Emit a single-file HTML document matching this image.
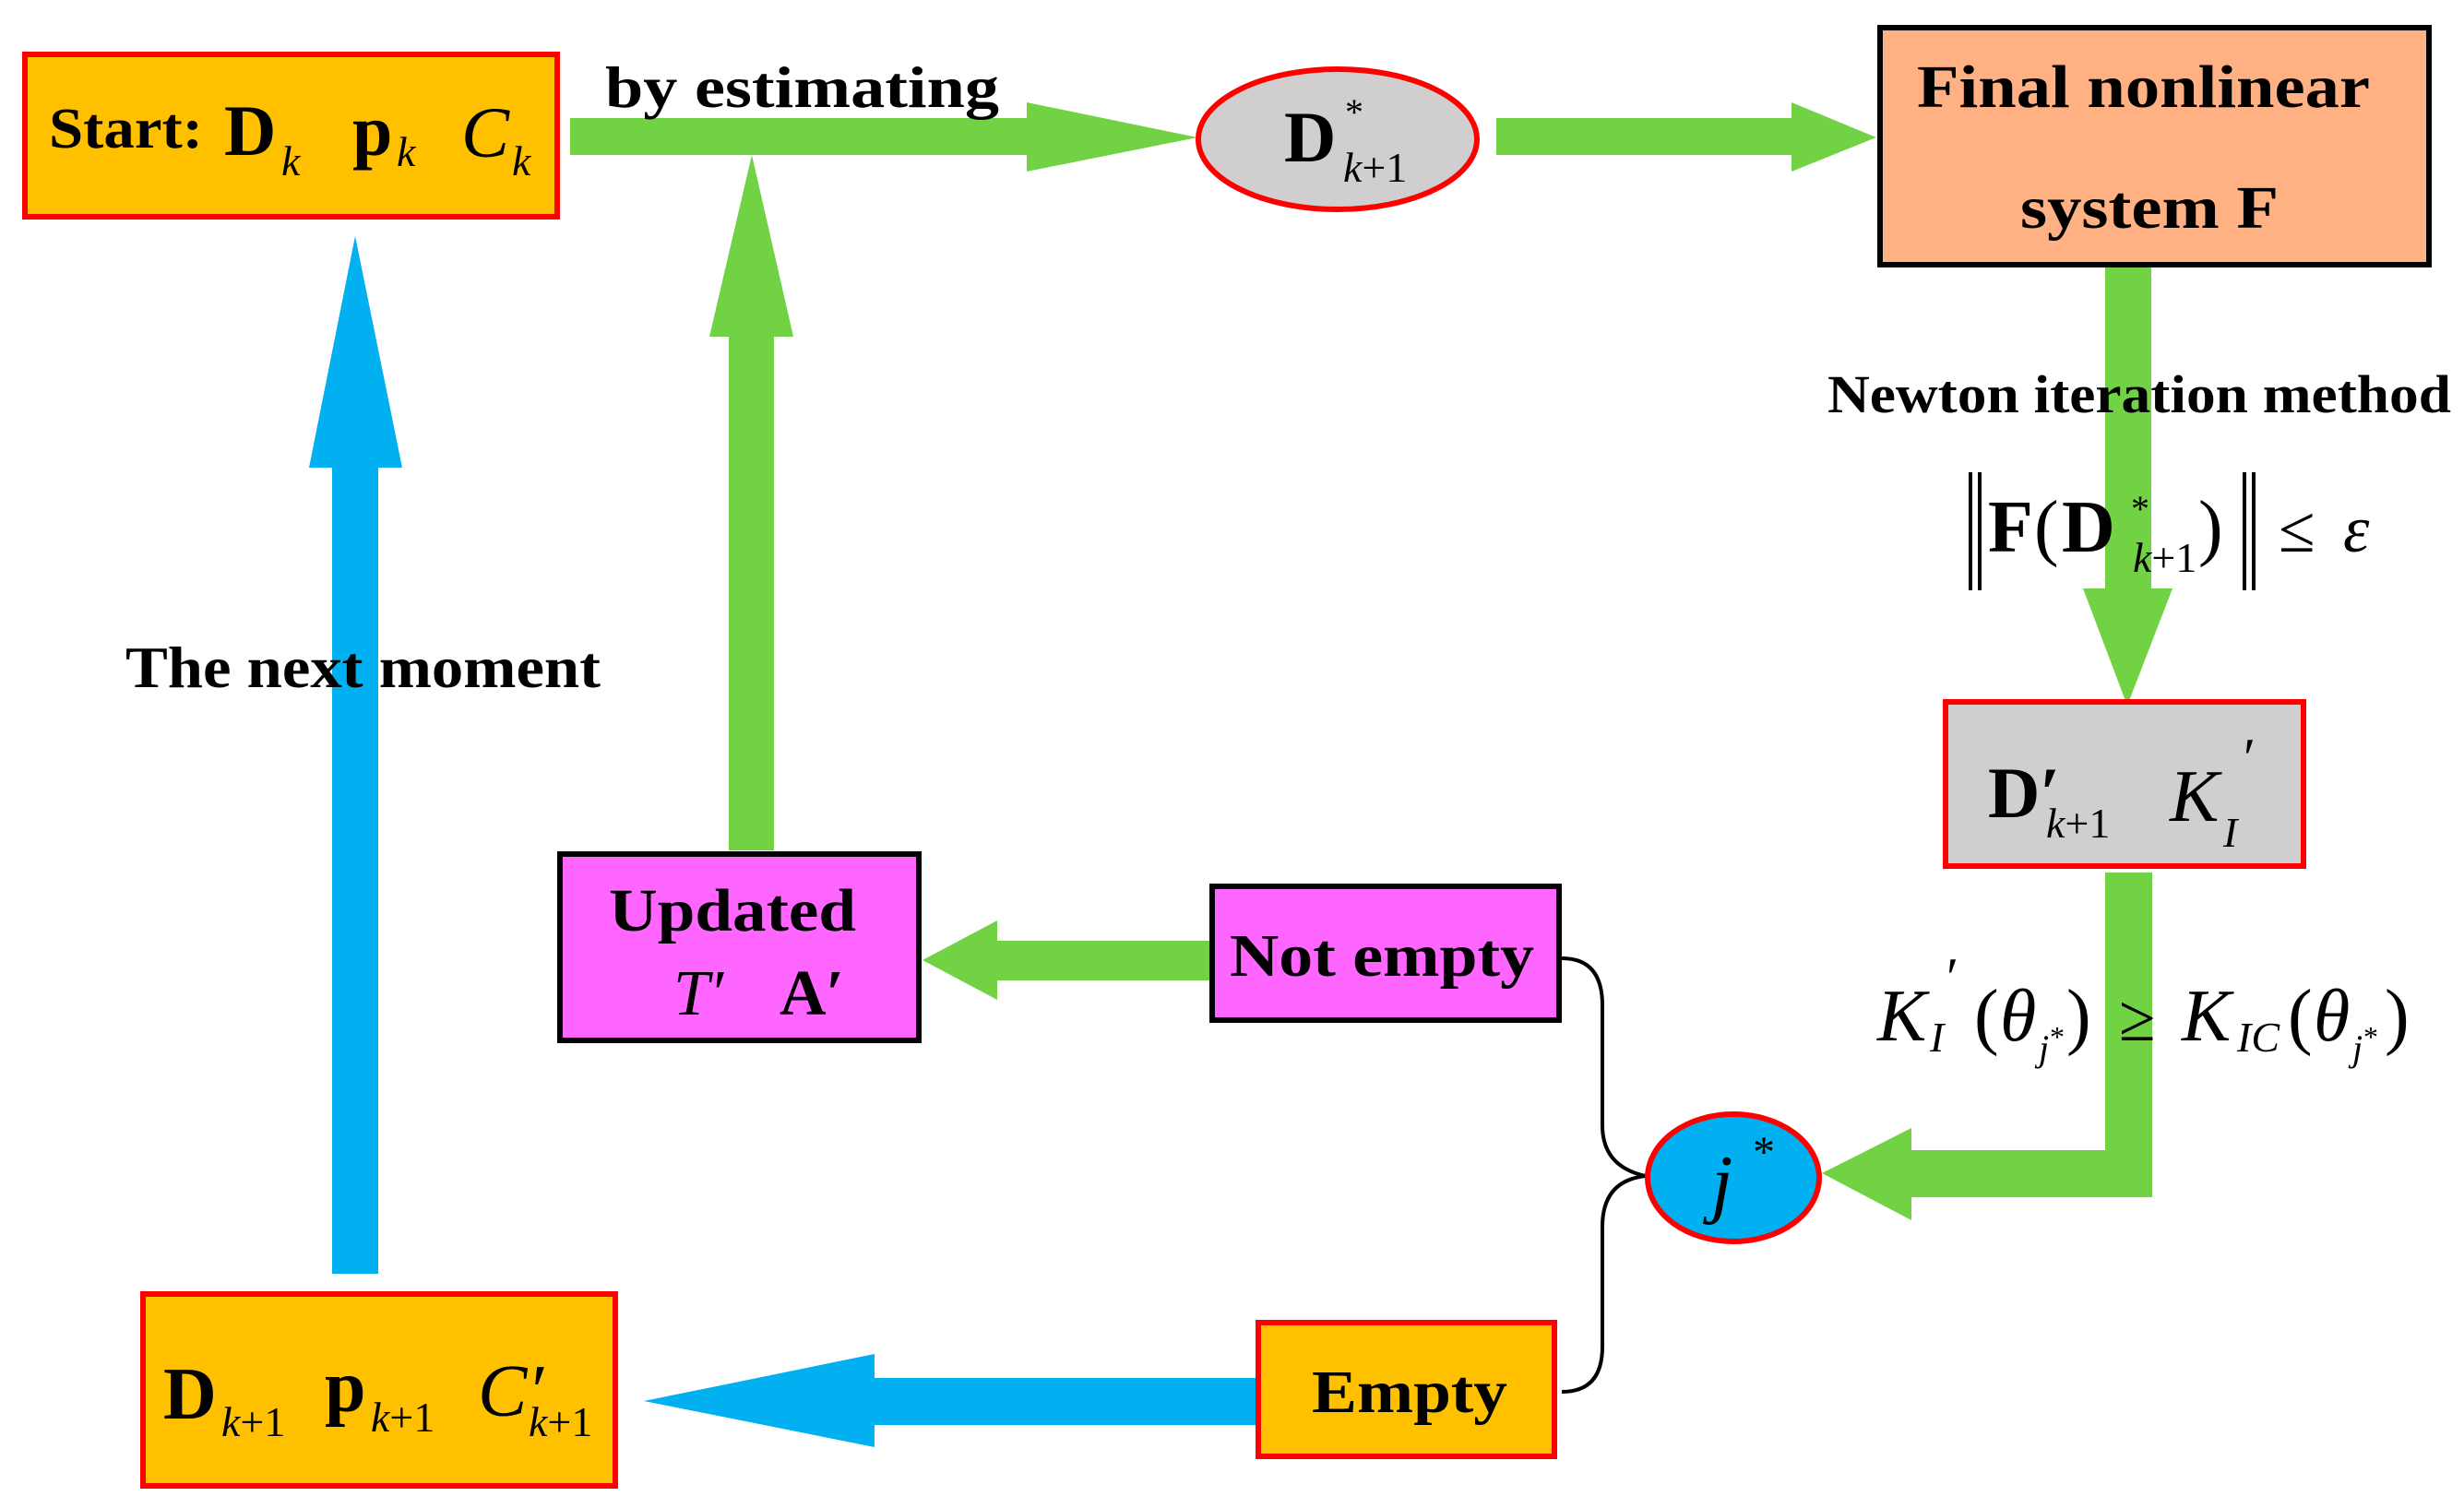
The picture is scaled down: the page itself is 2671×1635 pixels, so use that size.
<!DOCTYPE html>
<html><head><meta charset="utf-8"><style>
html,body{margin:0;padding:0;background:#fff;}
svg{display:block;}
text{font-family:"Liberation Serif",serif;fill:#000;}
.b{font-weight:bold;}
.i{font-style:italic;}
</style></head><body>
<svg width="2671" height="1635" viewBox="0 0 2671 1635" xmlns="http://www.w3.org/2000/svg">
<!-- green top arrow 1 -->
<polygon fill="#71D243" points="618,128 1113,128 1113,111 1298,149 1113,186 1113,168 618,168"/>
<!-- green vertical arrow up -->
<polygon fill="#71D243" points="790,922 790,365 769,365 815,168 860,365 839,365 839,922"/>
<!-- green arrow 2 -->
<polygon fill="#71D243" points="1622,128 1942,128 1942,111 2034,149 1942,186 1942,168 1622,168"/>
<!-- green down arrow -->
<polygon fill="#71D243" points="2282,290 2332,290 2332,638 2355,638 2306,765 2258,638 2282,638"/>
<!-- green elbow -->
<polygon fill="#71D243" points="2282,946 2333,946 2333,1298 2072,1298 2072,1323 1975,1272 2072,1223 2072,1247 2282,1247"/>
<!-- green Not empty -> Updated -->
<polygon fill="#71D243" points="1311,1020 1081,1020 1081,998 1000,1041 1081,1084 1081,1063 1311,1063"/>
<!-- blue up arrow -->
<polygon fill="#00B0F0" points="360,1381 360,507 335,507 385,256 436,507 410,507 410,1381"/>
<!-- blue bottom arrow -->
<polygon fill="#00B0F0" points="1361,1494 948,1494 948,1468 698,1519 948,1569 948,1545 1361,1545"/>
<!-- connectors -->
<path d="M1693,1039 Q1737,1039 1737,1090 L1737,1220 Q1737,1265 1784,1275" fill="none" stroke="#000" stroke-width="4"/>
<path d="M1784,1275 Q1737,1280 1737,1330 L1737,1460 Q1737,1509 1693,1509" fill="none" stroke="#000" stroke-width="4"/>

<!-- Start box -->
<rect x="27" y="59" width="577" height="176" fill="#FFC000" stroke="#FF0000" stroke-width="6"/>
<text class="b" x="53" y="160" font-size="62" textLength="167" lengthAdjust="spacingAndGlyphs">Start:</text>
<text class="b" x="243" y="168" font-size="78">D</text>
<text class="i" x="305" y="190" font-size="46">k</text>
<text class="b" x="382" y="168" font-size="78">p</text>
<text class="i" x="430" y="180" font-size="46">k</text>
<text class="i" x="500" y="170" font-size="78">C</text>
<text class="i" x="555" y="190" font-size="46">k</text>

<text class="b" x="656" y="116" font-size="64" textLength="427" lengthAdjust="spacingAndGlyphs">by estimating</text>

<!-- ellipse D* -->
<ellipse cx="1450" cy="151" rx="151" ry="76" fill="#D0CECE" stroke="#FF0000" stroke-width="6"/>
<text class="b" x="1392" y="175" font-size="78">D</text>
<text x="1458" y="135" font-size="40">*</text>
<text x="1456" y="197" font-size="46"><tspan class="i">k</tspan>+1</text>

<!-- Final box -->
<rect x="2038" y="30" width="595" height="257" fill="#FFB183" stroke="#000" stroke-width="6"/>
<text class="b" x="2078" y="116" font-size="66" textLength="491" lengthAdjust="spacingAndGlyphs">Final nonlinear</text>
<text class="b" x="2190" y="247" font-size="66" textLength="280" lengthAdjust="spacingAndGlyphs">system F</text>

<text class="b" x="1981" y="447" font-size="58" textLength="676" lengthAdjust="spacingAndGlyphs">Newton iteration method</text>

<!-- norm formula -->
<line x1="2136" y1="512" x2="2136" y2="640" stroke="#000" stroke-width="4"/>
<line x1="2146" y1="512" x2="2146" y2="640" stroke="#000" stroke-width="4"/>
<text class="b" x="2155" y="598" font-size="80">F</text>
<text x="2205" y="598" font-size="80">(</text>
<text class="b" x="2235" y="598" font-size="80">D</text>
<text x="2310" y="565" font-size="40">*</text>
<text x="2312" y="620" font-size="46"><tspan class="i">k</tspan>+1</text>
<text x="2383" y="598" font-size="80">)</text>
<line x1="2433" y1="512" x2="2433" y2="640" stroke="#000" stroke-width="4"/>
<line x1="2443" y1="512" x2="2443" y2="640" stroke="#000" stroke-width="4"/>
<text x="2470" y="598" font-size="72">≤</text>
<text class="i" x="2540" y="598" font-size="72">ε</text>

<!-- D' K box -->
<rect x="2109" y="761" width="388" height="178" fill="#D0CECE" stroke="#FF0000" stroke-width="6"/>
<text class="b" x="2155" y="886" font-size="78">D′</text>
<text x="2218" y="908" font-size="46"><tspan class="i">k</tspan>+1</text>
<text class="i" x="2352" y="890" font-size="80">K</text>
<text class="i" x="2410" y="918" font-size="46">I</text>
<text x="2432" y="842" font-size="60">′</text>

<!-- K formula -->
<text class="i" x="2035" y="1128" font-size="80">K</text>
<text class="i" x="2092" y="1140" font-size="46">I</text>
<text x="2110" y="1080" font-size="60">′</text>
<text x="2140" y="1128" font-size="80">(</text>
<text class="i" x="2168" y="1128" font-size="80">θ</text>
<text class="i" x="2210" y="1150" font-size="40">j</text>
<text x="2222" y="1135" font-size="32">*</text>
<text x="2240" y="1128" font-size="80">)</text>
<text x="2297" y="1128" font-size="72">≥</text>
<text class="i" x="2365" y="1128" font-size="80">K</text>
<text class="i" x="2425" y="1140" font-size="46">IC</text>
<text x="2480" y="1128" font-size="80">(</text>
<text class="i" x="2508" y="1128" font-size="80">θ</text>
<text class="i" x="2550" y="1150" font-size="40">j</text>
<text x="2562" y="1135" font-size="32">*</text>
<text x="2585" y="1128" font-size="80">)</text>

<!-- j* circle -->
<ellipse cx="1879" cy="1277" rx="93" ry="69" fill="#00B0F0" stroke="#FF0000" stroke-width="6"/>
<text class="i" x="1855" y="1310" font-size="84">j</text>
<text x="1900" y="1265" font-size="48">*</text>

<!-- Not empty -->
<rect x="1314" y="961" width="376" height="145" fill="#FF66FF" stroke="#000" stroke-width="6"/>
<text class="b" x="1333" y="1058" font-size="66" textLength="330" lengthAdjust="spacingAndGlyphs">Not empty</text>

<!-- Empty -->
<rect x="1364" y="1434" width="321" height="145" fill="#FFC000" stroke="#FF0000" stroke-width="6"/>
<text class="b" x="1422" y="1531" font-size="66" textLength="212" lengthAdjust="spacingAndGlyphs">Empty</text>

<!-- Updated -->
<rect x="607" y="926" width="389" height="202" fill="#FF66FF" stroke="#000" stroke-width="6"/>
<text class="b" x="660" y="1009" font-size="66" textLength="268" lengthAdjust="spacingAndGlyphs">Updated</text>
<text class="i" x="730" y="1100" font-size="70">T′</text>
<text class="b" x="845" y="1100" font-size="70">A′</text>

<!-- bottom-left box -->
<rect x="155" y="1403" width="512" height="208" fill="#FFC000" stroke="#FF0000" stroke-width="6"/>
<text class="b" x="177" y="1538" font-size="80">D</text>
<text x="240" y="1557" font-size="46"><tspan class="i">k</tspan>+1</text>
<text class="b" x="352" y="1530" font-size="80">p</text>
<text x="402" y="1552" font-size="46"><tspan class="i">k</tspan>+1</text>
<text class="i" x="518" y="1535" font-size="80">C′</text>
<text x="573" y="1557" font-size="46"><tspan class="i">k</tspan>+1</text>

<text class="b" x="136" y="745" font-size="64" textLength="515" lengthAdjust="spacingAndGlyphs">The next moment</text>
</svg>
</body></html>
